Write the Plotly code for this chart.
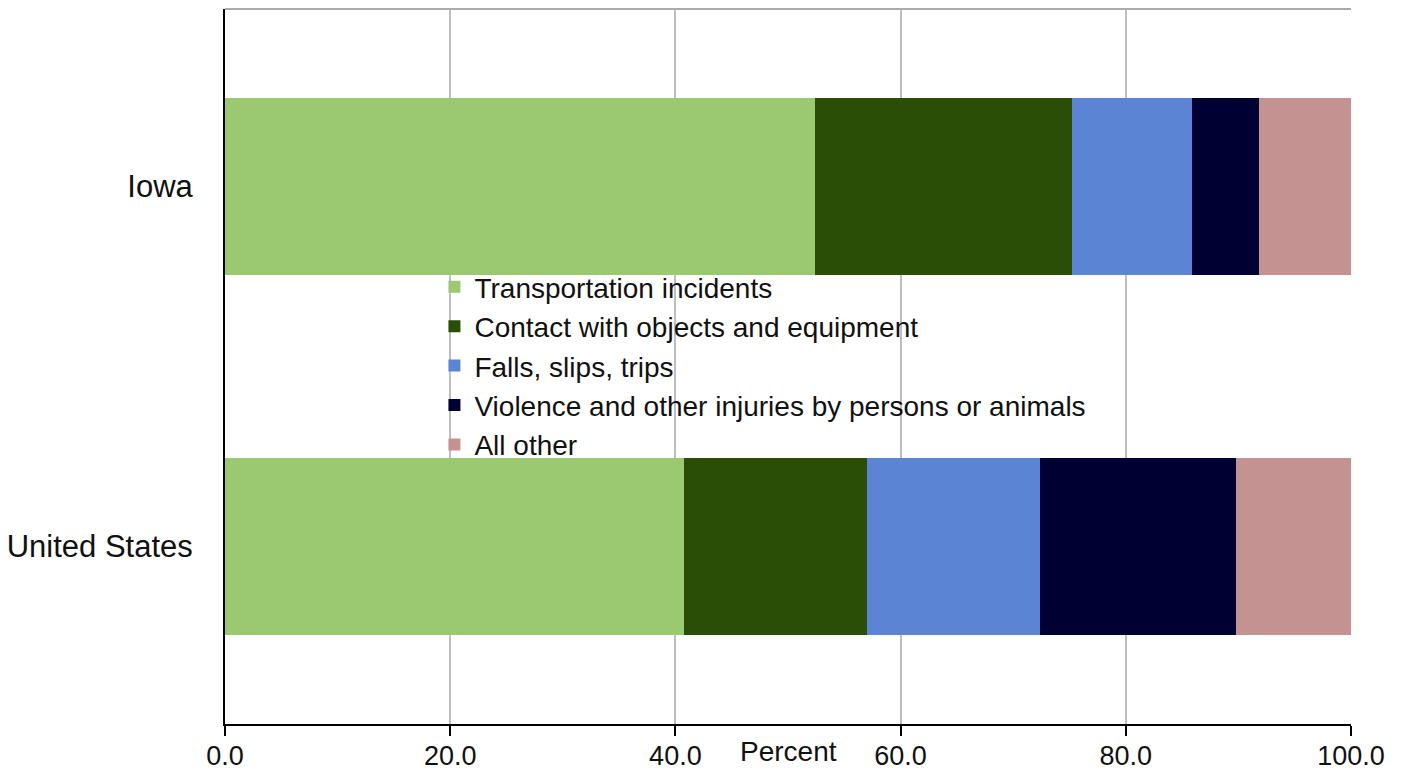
import plotly.graph_objects as go

regions = ["United States", "Iowa"]
series_names = [
    "Transportation incidents",
    "Contact with objects and equipment",
    "Falls, slips, trips",
    "Violence and other injuries by persons or animals",
    "All other",
]
transportation = [40.8, 52.4]
contact = [16.2, 22.8]
falls = [15.4, 10.7]
violence = [17.4, 5.9]
all_other = [10.2, 8.2]
colors = ["#9BC972", "#2A4E06", "#5B84D5", "#000032", "#C49290"]
x_ticks = [0, 20, 40, 60, 80, 100]
x_tick_labels = ["0.0", "20.0", "40.0", "60.0", "80.0", "100.0"]

values = [transportation, contact, falls, violence, all_other]

fig = go.Figure()
for name, vals, col in zip(series_names, values, colors):
    fig.add_trace(go.Bar(
        y=regions, x=vals, name=name, orientation="h",
        marker=dict(color=col, line=dict(width=0)),
    ))

font_family = "Liberation Sans, Arial, sans-serif"
fig.update_layout(
    barmode="stack",
    bargap=0.506,
    width=1395, height=763,
    margin=dict(l=217, r=52, t=1, b=47, autoexpand=False),
    plot_bgcolor="white",
    paper_bgcolor="white",
    font=dict(family=font_family, size=28, color="#111111"),
    showlegend=True,
    legend=dict(
        x=0.186, xanchor="left", y=0.646, yanchor="top",
        bgcolor="rgba(0,0,0,0)", font=dict(size=28, color="#111111"),
        traceorder="normal", tracegroupgap=0, itemwidth=30,
    ),
    xaxis=dict(
        range=[0, 100], tickvals=x_ticks, ticktext=x_tick_labels,
        showgrid=True, gridcolor="#BEBEBE", gridwidth=1.5,
        showline=True, linecolor="black", linewidth=2,
        ticks="outside", ticklen=10, tickcolor="black", tickwidth=2,
        tickfont=dict(size=27), zeroline=False, fixedrange=True,
        automargin=False, ticklabelstandoff=-3,
    ),
    yaxis=dict(
        range=[-0.493, 1.493], showgrid=False,
        showline=True, linecolor="black", linewidth=2,
        ticks="", ticklabelstandoff=24, automargin=False,
        tickfont=dict(size=31), zeroline=False,
    ),
    shapes=[dict(type="line", xref="paper", yref="paper", x0=0, x1=1, y0=1, y1=1,
                 layer="above", line=dict(color="#AAAAAA", width=2))],
    annotations=[dict(text="Percent", x=50, xref="x", y=-0.038, yref="paper",
                      yanchor="middle", showarrow=False, font=dict(size=28, color="#111111"))],
)

fig.write_html("out.html")
